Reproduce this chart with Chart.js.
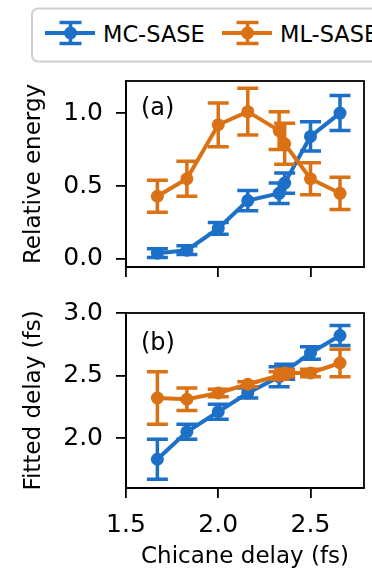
<!DOCTYPE html>
<html>
<head>
<meta charset="utf-8">
<script src="https://cdn.jsdelivr.net/npm/chart.js@4"></script>
<style>
  html, body { margin:0; padding:0; background:#fff; width:372px; height:571px; overflow:hidden; }
  #c1 { position:absolute; left:0; top:40px; }
  #c2 { position:absolute; left:0; top:270px; }
  #legend { position:absolute; left:0; top:0; }
</style>
</head>
<body>
<svg id="legend" width="372" height="70" xmlns="http://www.w3.org/2000/svg"></svg>
<canvas id="c1" width="372" height="260"></canvas>
<canvas id="c2" width="372" height="301"></canvas>
<script>
// ---- data ----
const seriesNames = ['MC-SASE', 'ML-SASE'];
const chicaneDelay = [1.67, 1.83, 2.0, 2.16, 2.33, 2.36, 2.5, 2.66];
const mcEnergy    = [0.04, 0.06, 0.21, 0.40, 0.45, 0.52, 0.84, 1.00];
const mcEnergyErr = [0.03, 0.03, 0.04, 0.07, 0.07, 0.07, 0.10, 0.12];
const mlEnergy    = [0.43, 0.55, 0.92, 1.01, 0.88, 0.79, 0.55, 0.45];
const mlEnergyErr = [0.11, 0.12, 0.15, 0.16, 0.13, 0.14, 0.11, 0.11];
const mcDelay     = [1.83, 2.05, 2.21, 2.36, 2.49, 2.53, 2.68, 2.82];
const mcDelayErr  = [0.16, 0.06, 0.06, 0.04, 0.08, 0.06, 0.05, 0.08];
const mlDelay     = [2.32, 2.31, 2.36, 2.43, 2.50, 2.52, 2.52, 2.60];
const mlDelayErr  = [0.21, 0.09, 0.03, 0.02, 0.03, 0.03, 0.03, 0.11];
const xTicks      = [1.5, 2.0, 2.5];
const energyTicks = [0.0, 0.5, 1.0];
const delayTicks  = [2.0, 2.5, 3.0];

// ---- styles ----
const BLUE = '#1c70c8';
const ORANGE = '#db7115';
const FONT = 'DejaVu Sans';

// ---- legend ----
(function buildLegend() {
  const svg = document.getElementById('legend');
  const ns = 'http://www.w3.org/2000/svg';
  function el(tag, attrs, text) {
    const e = document.createElementNS(ns, tag);
    for (const k in attrs) e.setAttribute(k, attrs[k]);
    if (text) e.textContent = text;
    svg.appendChild(e);
    return e;
  }
  el('rect', {x: 32, y: 8.5, width: 380, height: 53, rx: 6, ry: 6, fill: '#fff', stroke: '#cfcfcf', 'stroke-width': 2});
  const items = [
    {name: seriesNames[0], color: BLUE, x0: 45, tx: 103},
    {name: seriesNames[1], color: ORANGE, x0: 222, tx: 280}
  ];
  items.forEach(it => {
    const cx = it.x0 + 25.5, cy = 33;
    el('line', {x1: it.x0, y1: cy, x2: it.x0 + 50, y2: cy, stroke: it.color, 'stroke-width': 4});
    el('line', {x1: cx, y1: 22.5, x2: cx, y2: 43.5, stroke: it.color, 'stroke-width': 3.5});
    el('line', {x1: cx - 11, y1: 22.5, x2: cx + 11, y2: 22.5, stroke: it.color, 'stroke-width': 3.5});
    el('line', {x1: cx - 11, y1: 43.5, x2: cx + 11, y2: 43.5, stroke: it.color, 'stroke-width': 3.5});
    el('circle', {cx: cx, cy: cy, r: 6.5, fill: it.color});
    el('text', {x: it.tx, y: 41.8, 'font-family': FONT, 'font-size': 22.5, fill: '#000'}, it.name);
  });
})();

// ---- plugins ----
const errorBars = {
  id: 'errorBars',
  beforeDatasetDraw(chart, args) {
    const ds = chart.data.datasets[args.index];
    if (!ds.errors) return;
    const ctx = chart.ctx, xs = chart.scales.x, ys = chart.scales.y;
    ctx.save();
    ctx.strokeStyle = ds.borderColor;
    ctx.lineWidth = 3.5;
    ctx.lineCap = 'butt';
    ds.data.forEach((p, i) => {
      const e = ds.errors[i];
      const px = xs.getPixelForValue(p.x);
      const yTop = ys.getPixelForValue(p.y + e);
      const yBot = ys.getPixelForValue(p.y - e);
      const cw = 10.5;
      ctx.beginPath();
      ctx.moveTo(px, yTop); ctx.lineTo(px, yBot);
      ctx.moveTo(px - cw, yTop); ctx.lineTo(px + cw, yTop);
      ctx.moveTo(px - cw, yBot); ctx.lineTo(px + cw, yBot);
      ctx.stroke();
    });
    ctx.restore();
  }
};

const frame = {
  id: 'frame',
  afterDatasetsDraw(chart, args, opts) {
    const {ctx, chartArea: a} = chart;
    ctx.save();
    ctx.strokeStyle = '#000';
    ctx.lineWidth = 1.8;
    ctx.strokeRect(a.left, a.top, a.right - a.left, a.bottom - a.top);
    if (opts.label) {
      ctx.fillStyle = '#000';
      ctx.font = '24px "' + FONT + '"';
      ctx.textBaseline = 'alphabetic';
      ctx.textAlign = 'left';
      ctx.fillText(opts.label, a.left + 15, a.top + opts.dy);
    }
    ctx.restore();
  }
};

function makeDataset(name, color, ys, errs, order) {
  return {
    label: name,
    data: chicaneDelay.map((x, i) => ({x: x, y: ys[i]})),
    errors: errs,
    borderColor: color,
    backgroundColor: color,
    pointBackgroundColor: color,
    pointBorderWidth: 0,
    pointRadius: 6.5,
    borderWidth: 4,
    tension: 0,
    order: order,
    clip: false
  };
}

function makeChart(canvasId, cfg) {
  return new Chart(document.getElementById(canvasId), {
    type: 'line',
    data: {
      datasets: [
        makeDataset(seriesNames[0], BLUE, cfg.mc, cfg.mcErr, 1),
        makeDataset(seriesNames[1], ORANGE, cfg.ml, cfg.mlErr, 0)
      ]
    },
    options: {
      responsive: false,
      animation: false,
      devicePixelRatio: 1,
      layout: { padding: { top: cfg.padTop, right: 8, left: 0, bottom: 0 } },
      plugins: {
        legend: { display: false },
        tooltip: { enabled: false },
        frame: { label: cfg.label, dy: cfg.labelDy }
      },
      scales: {
        x: {
          type: 'linear',
          min: 1.5, max: 2.79,
          afterBuildTicks: s => { s.ticks = xTicks.map(v => ({value: v})); },
          afterFit: s => { s.height = cfg.xHeight; },
          grid: { drawOnChartArea: false, drawTicks: true, tickLength: 10, color: '#000', lineWidth: 1.8 },
          border: { display: true, color: '#000', width: 1.8 },
          ticks: {
            color: '#000', padding: 12, maxRotation: 0,
            font: { family: FONT, size: 25 },
            callback: v => cfg.showX ? Number(v).toFixed(1) : ''
          },
          title: {
            display: cfg.showX, text: 'Chicane delay (fs)', color: '#000',
            font: { family: FONT, size: 23 }, padding: { top: 0, bottom: 0 }
          }
        },
        y: {
          type: 'linear',
          min: cfg.yMin, max: cfg.yMax,
          afterBuildTicks: s => { s.ticks = cfg.yTicks.map(v => ({value: v})); },
          afterFit: s => { s.width = 126; },
          grid: { drawOnChartArea: false, drawTicks: true, tickLength: 10, color: '#000', lineWidth: 1.8 },
          border: { display: true, color: '#000', width: 1.8 },
          ticks: {
            color: '#000', padding: 13,
            font: { family: FONT, size: 25 },
            callback: v => Number(v).toFixed(1)
          },
          title: {
            display: true, text: cfg.yTitle, color: '#000',
            font: { family: FONT, size: 23 }, padding: { top: 20, bottom: 0 }
          }
        }
      }
    },
    plugins: [errorBars, frame]
  });
}

makeChart('c1', {
  mc: mcEnergy, mcErr: mcEnergyErr, ml: mlEnergy, mlErr: mlEnergyErr,
  yMin: -0.055, yMax: 1.22, yTicks: energyTicks, yTitle: 'Relative energy',
  padTop: 41, xHeight: 33, showX: false, label: '(a)', labelDy: 34
});
makeChart('c2', {
  mc: mcDelay, mcErr: mcDelayErr, ml: mlDelay, mlErr: mlDelayErr,
  yMin: 1.6, yMax: 3.0, yTicks: delayTicks, yTitle: 'Fitted delay (fs)',
  padTop: 43, xHeight: 83, showX: true, label: '(b)', labelDy: 37
});
</script>
</body>
</html>
